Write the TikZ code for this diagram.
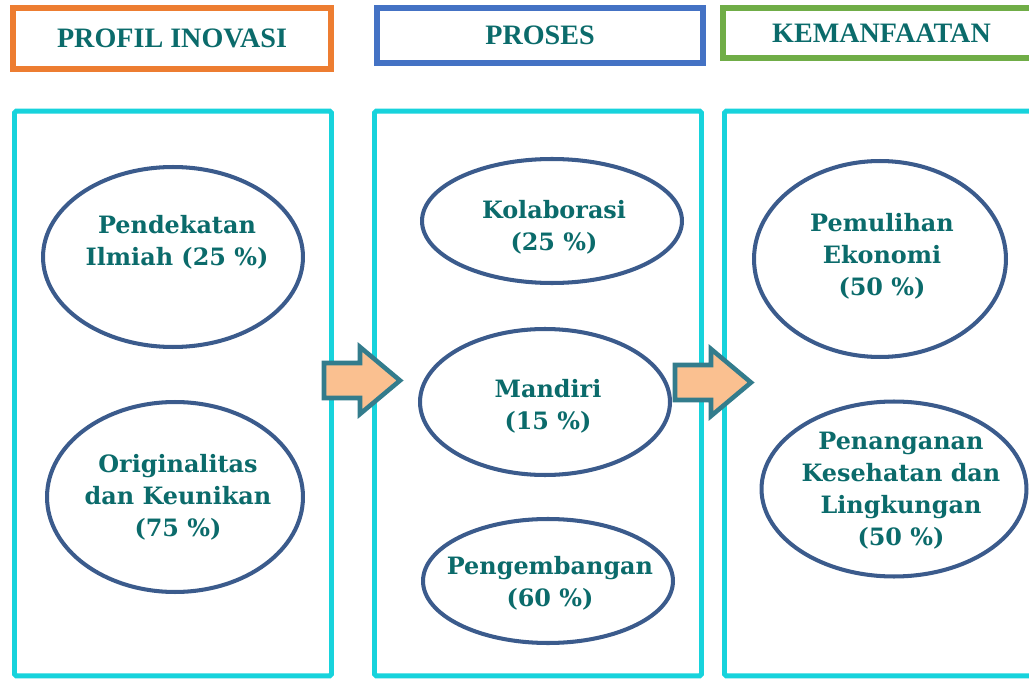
\documentclass[tikz,border=0pt]{standalone}
\usepackage{fontspec}
\setmainfont{DejaVu Serif}
\newfontfamily\headfont{Liberation Serif}
\usepackage{tikz}
\usetikzlibrary{positioning,shapes.geometric}
\definecolor{tealtext}{HTML}{0B6B6B}
\definecolor{ovalline}{HTML}{3B5B8C}
\definecolor{colline}{HTML}{17D3DC}
\definecolor{orangeline}{HTML}{ED7D31}
\definecolor{blueline}{HTML}{4472C4}
\definecolor{greenline}{HTML}{70AD47}
\definecolor{peach}{HTML}{FAC090}
\definecolor{arrowline}{HTML}{337C8C}

\begin{document}
\begin{tikzpicture}[
  x=0.02cm, y=-0.02cm,
  header/.style = {
    draw,
    rectangle,
    line width = 3.4pt,
    font = \headfont\bfseries\fontsize{16}{18}\selectfont,
    text = tealtext,
  },
  column/.style = {
    draw = colline,
    rectangle,
    rounded corners = 1pt,
    line width = 2.8pt,
    minimum width = 6.34cm,
    minimum height = 11.3cm,
  },
  oval/.style = {
    draw = ovalline,
    ellipse,
    line width = 2.3pt,
    fill = white,
  },
  txt/.style = {
    align = center,
    text = tealtext,
    font = \bfseries\fontsize{13.6}{18.2}\selectfont,
  },
  flow/.style = {
    draw = arrowline,
    fill = peach,
    line width = 2.6pt,
  },
]

  \clip (0,0) rectangle (1029,679);

  % headers
  \node[header,draw=orangeline,minimum width=6.36cm,minimum height=1.22cm] (h0) at (172,38.5) {PROFIL INOVASI};
  \node[header,draw=blueline,minimum width=6.52cm,minimum height=1.1cm] (h1) at (540,35.5) {PROSES};
  \node[header,draw=greenline,minimum width=6.34cm,minimum height=1.0cm] (h2) at (881.5,33) {KEMANFAATAN};

  % columns
  \node[column] (c0) at (173,393.5) {};
  \node[column,minimum width=6.54cm] (c1) at (538,393.5) {};
  \node[column] (c2) at (883,393.5) {};

  % profil inovasi
  \node[oval,minimum width=5.2cm,minimum height=3.6cm] (e0) at (173,257) {};
  \node[txt] (t0) at (177,242) {Pendekatan\\Ilmiah (25 \%)};
  \node[oval,minimum width=5.12cm,minimum height=3.8cm] (e1) at (175,497) {};
  \node[txt] (t1) at (178,497) {Originalitas\\dan Keunikan\\(75 \%)};

  % proses
  \node[oval,minimum width=5.2cm,minimum height=2.48cm] (e2) at (552,221) {};
  \node[txt] (t2) at (554,227) {Kolaborasi\\(25 \%)};
  \node[oval,minimum width=5.0cm,minimum height=2.92cm] (e3) at (545,402) {};
  \node[txt] (t3) at (548,406) {Mandiri\\(15 \%)};
  \node[oval,minimum width=5.0cm,minimum height=2.48cm] (e4) at (548,581) {};
  \node[txt] (t4) at (550,583) {Pengembangan\\(60 \%)};

  % kemanfaatan
  \node[oval,minimum width=5.04cm,minimum height=3.92cm] (e5) at (880,259) {};
  \node[txt] (t5) at (882,256) {Pemulihan\\Ekonomi\\(50 \%)};
  \node[oval,minimum width=5.3cm,minimum height=3.5cm] (e6) at (894,489) {};
  \node[txt] (t6) at (901,491) {Penanganan\\Kesehatan dan\\Lingkungan\\(50 \%)};

  % arrows between columns
  \foreach \ax/\ay [count=\i] in {324/380.5, 675/382.5} {
    \coordinate (a\i) at (\ax,\ay);
    \draw[flow] (a\i) ++(0,-17.5) -- ++(36,0) -- ++(0,-16) -- ++(40,33.5)
      -- ++(-40,33.5) -- ++(0,-16) -- ++(-36,0) -- cycle;
  }

\end{tikzpicture}
\end{document}
